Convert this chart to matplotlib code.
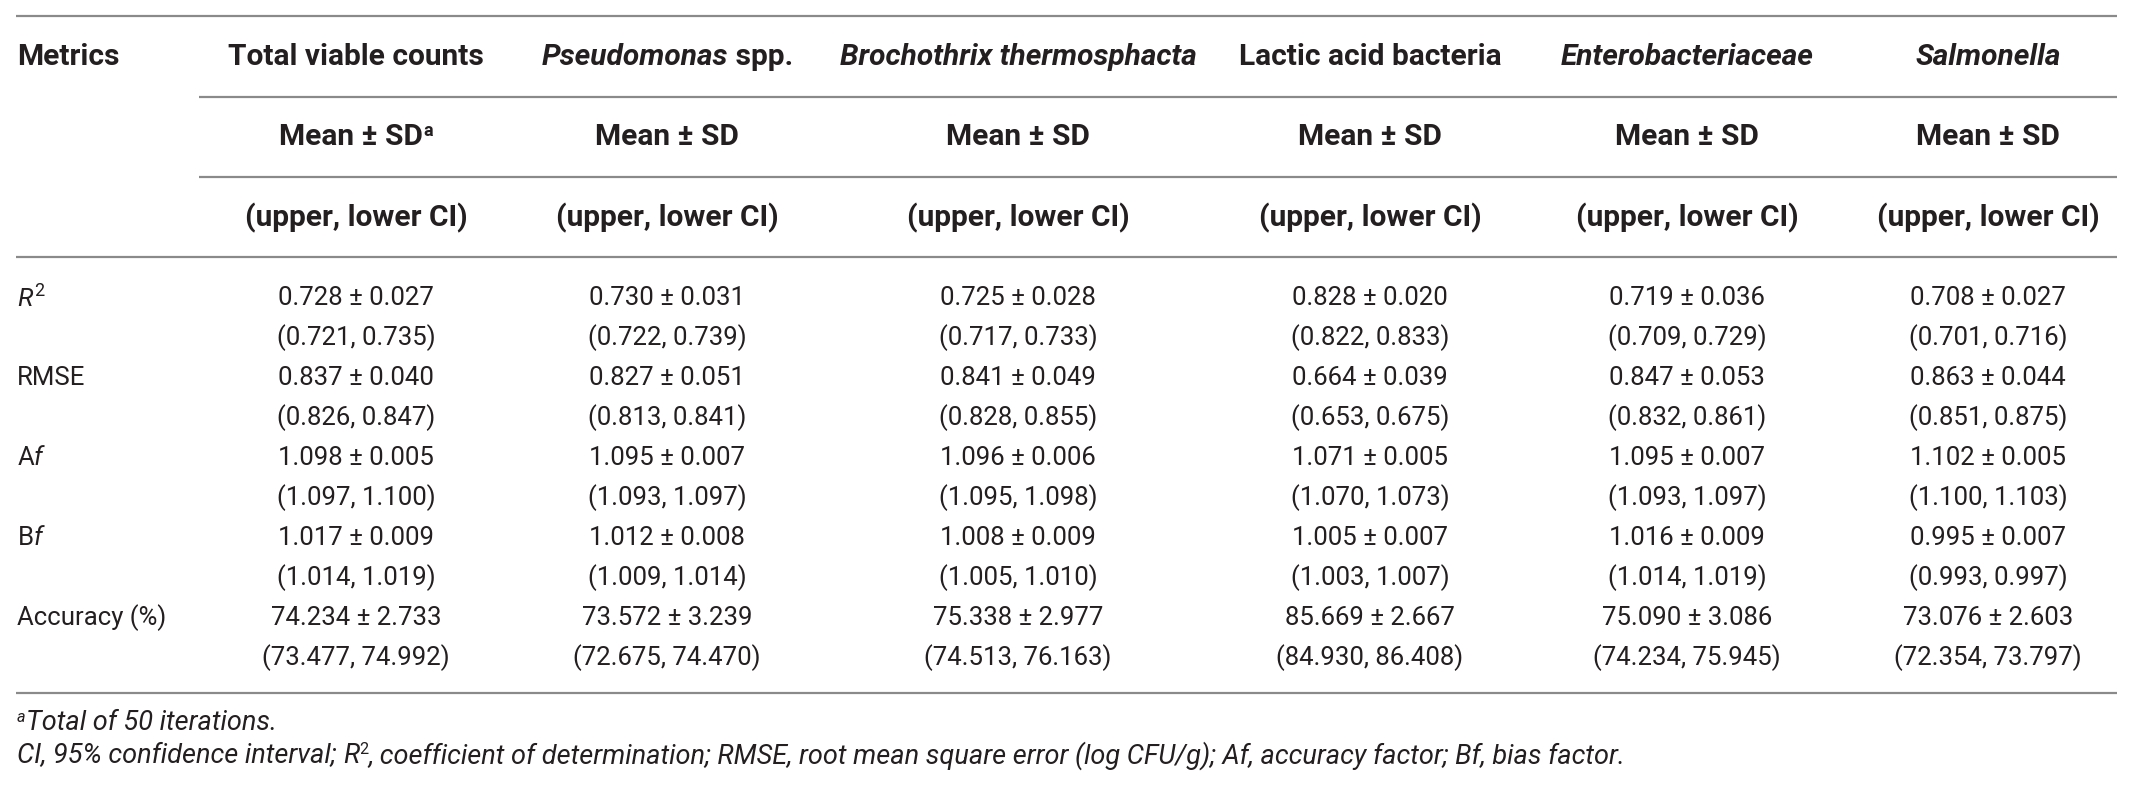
import matplotlib
matplotlib.use("Agg")
import matplotlib.pyplot as plt

# table content
columns = [
    [("Total viable counts", "normal")],
    [("Pseudomonas", "italic"), (" spp.", "normal")],
    [("Brochothrix thermosphacta", "italic")],
    [("Lactic acid bacteria", "normal")],
    [("Enterobacteriaceae", "italic")],
    [("Salmonella", "italic")],
]
metrics = [r"$\mathit{R}^{2}$", "RMSE", r"A$\mathit{f}$", r"B$\mathit{f}$", "Accuracy (%)"]

mean_r2 = ["0.728", "0.730", "0.725", "0.828", "0.719", "0.708"]
sd_r2 = ["0.027", "0.031", "0.028", "0.020", "0.036", "0.027"]
ci_r2 = [("0.721", "0.735"), ("0.722", "0.739"), ("0.717", "0.733"),
         ("0.822", "0.833"), ("0.709", "0.729"), ("0.701", "0.716")]

mean_rmse = ["0.837", "0.827", "0.841", "0.664", "0.847", "0.863"]
sd_rmse = ["0.040", "0.051", "0.049", "0.039", "0.053", "0.044"]
ci_rmse = [("0.826", "0.847"), ("0.813", "0.841"), ("0.828", "0.855"),
           ("0.653", "0.675"), ("0.832", "0.861"), ("0.851", "0.875")]

mean_af = ["1.098", "1.095", "1.096", "1.071", "1.095", "1.102"]
sd_af = ["0.005", "0.007", "0.006", "0.005", "0.007", "0.005"]
ci_af = [("1.097", "1.100"), ("1.093", "1.097"), ("1.095", "1.098"),
         ("1.070", "1.073"), ("1.093", "1.097"), ("1.100", "1.103")]

mean_bf = ["1.017", "1.012", "1.008", "1.005", "1.016", "0.995"]
sd_bf = ["0.009", "0.008", "0.009", "0.007", "0.009", "0.007"]
ci_bf = [("1.014", "1.019"), ("1.009", "1.014"), ("1.005", "1.010"),
         ("1.003", "1.007"), ("1.014", "1.019"), ("0.993", "0.997")]

mean_acc = ["74.234", "73.572", "75.338", "85.669", "75.090", "73.076"]
sd_acc = ["2.733", "3.239", "2.977", "2.667", "3.086", "2.603"]
ci_acc = [("73.477", "74.992"), ("72.675", "74.470"), ("74.513", "76.163"),
          ("84.930", "86.408"), ("74.234", "75.945"), ("72.354", "73.797")]

means = [mean_r2, mean_rmse, mean_af, mean_bf, mean_acc]
sds = [sd_r2, sd_rmse, sd_af, sd_bf, sd_acc]
cis = [ci_r2, ci_rmse, ci_af, ci_bf, ci_acc]

W, H = 2135, 793
TXT = "#231f20"
LINE = "#8a8a8a"
FONT = ["Roboto", "DejaVu Sans"]

plt.rcParams["font.family"] = FONT
plt.rcParams["mathtext.fontset"] = "custom"
plt.rcParams["mathtext.rm"] = "Roboto"
plt.rcParams["mathtext.it"] = "Roboto:italic"

fig = plt.figure(figsize=(W / 100, H / 100), dpi=100)
ax = fig.add_axes([0, 0, 1, 1])
ax.set_xlim(0, W)
ax.set_ylim(H, 0)
ax.axis("off")
renderer = fig.canvas.get_renderer()

col_x = [356, 667, 1018, 1370, 1687, 1988]
x_left = 17
x_right = 2117


def runs(x, y, parts, size, weight, ha="center"):
    # draw a sequence of differently styled pieces, then align as a group
    objs = []
    cur = 0
    for text, style, rel, dy in parts:
        t = ax.text(cur, y + dy, text, fontsize=size * rel, fontweight=weight,
                    fontstyle=style, color=TXT, va="center", ha="left")
        w = t.get_window_extent(renderer).width
        objs.append((t, cur))
        cur += w
    shift = x - cur / 2 if ha == "center" else x
    for t, c in objs:
        t.set_x(c + shift)


# rules
for yy in (16, 257, 693):
    ax.plot([x_left - 1, x_right], [yy, yy], color=LINE, lw=1.6, solid_capstyle="butt")
for yy in (97, 177):
    ax.plot([199, x_right], [yy, yy], color=LINE, lw=1.6, solid_capstyle="butt")

# header
HS = 21.5
ax.text(x_left, 57, "Metrics", fontsize=HS, fontweight="bold", color=TXT, va="center", ha="left")
for i, (cx, col) in enumerate(zip(col_x, columns)):
    runs(cx, 57, [(s, st, 1, 0) for s, st in col], HS, "bold")
    if i == 0:
        runs(cx, 137, [("Mean ± SD", "normal", 1, 0), ("a", "normal", 0.6, -6)], HS, "bold")
    else:
        runs(cx, 137, [("Mean ± SD", "normal", 1, 0)], HS, "bold")
    runs(cx, 218, [("(upper, lower CI)", "normal", 1, 0)], HS, "bold")

# body
DS = 18.5
for r, label in enumerate(metrics):
    y0 = 298 + 80 * r
    ax.text(x_left, y0, label, fontsize=DS, color=TXT, va="center", ha="left")
    for c, cx in enumerate(col_x):
        ax.text(cx, y0, f"{means[r][c]} ± {sds[r][c]}", fontsize=DS,
                color=TXT, va="center", ha="center")
        lo, hi = cis[r][c]
        ax.text(cx, y0 + 40, f"({lo}, {hi})", fontsize=DS,
                color=TXT, va="center", ha="center")

# footnotes
FS = 19.5
runs(x_left, 723, [("a", "italic", 0.6, -6), ("Total of 50 iterations.", "italic", 1, 0)],
     FS, "normal", ha="left")
runs(x_left, 756, [("CI, 95% confidence interval; ", "italic", 1, 0),
                   ("R", "italic", 1, 0), ("2", "normal", 0.6, -6),
                   (", coefficient of determination; RMSE, root mean square error (log CFU/g); "
                    "Af, accuracy factor; Bf, bias factor.", "italic", 1, 0)],
     FS, "normal", ha="left")

fig.savefig("out.png", dpi=100, facecolor="white")
